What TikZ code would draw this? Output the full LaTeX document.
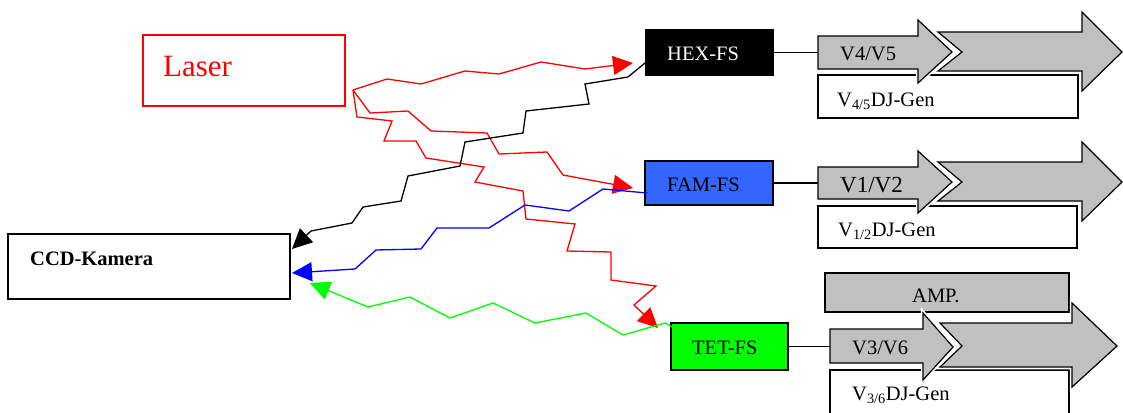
\documentclass[tikz,border=0pt]{standalone}
\usepackage{fontspec}
\setmainfont{Liberation Serif}
\usetikzlibrary{arrows.meta}
\definecolor{famblue}{HTML}{3366FF}
\definecolor{tetgreen}{HTML}{00FF00}
\definecolor{grayfill}{HTML}{C0C0C0}
\begin{document}
\begin{tikzpicture}[x=1pt,y=-1pt,
  box/.style={draw=black, line width=1.2pt, anchor=north west, inner sep=0pt, outer sep=0pt},
  txt/.style={anchor=base west, inner sep=0pt, font=\fontsize{20.5}{24}\selectfont},
  wire/.style={line width=1.3pt, line join=miter},
  tip/.style={-{Triangle[length=20pt,width=19pt]}},
  garrow/.style={fill=grayfill, draw=black, line width=1.2pt, line join=miter},
  halo/.style={draw=white, line width=4.5pt, line join=miter}
]
\clip (0,0) rectangle (1123,412);
\fill[white] (0,0) rectangle (1123,412);

% ---------- boxes ----------
\node[box, draw=red, minimum width=202pt, minimum height=71pt] (laser) at (143,35) {};
\node[box, fill=black, minimum width=127pt, minimum height=45pt] (hex) at (646,30) {};
\node[box, fill=famblue, minimum width=128pt, minimum height=44pt] (fam) at (645,161) {};
\node[box, fill=tetgreen, minimum width=117pt, minimum height=47pt] (tet) at (671,323) {};
\node[box, minimum width=282pt, minimum height=65pt] (ccd) at (8,234) {};

\node[box, fill=white, minimum width=260pt, minimum height=43pt] (gen1) at (818,75) {};
\node[box, fill=white, minimum width=259pt, minimum height=42pt] (gen2) at (818,206) {};
\node[box, fill=white, minimum width=239pt, minimum height=60pt] (gen3) at (830,370) {};
\node[box, fill=grayfill, minimum width=244pt, minimum height=39pt] (amp) at (825,273) {};

% ---------- gray arrows ----------
% row 1
\path[halo] (818,36) -- (918,36) -- (918,20) -- (952,52) -- (918,83) -- (918,69) -- (818,69) -- cycle;
\path[garrow] (818,36) -- (918,36) -- (918,20) -- (952,52) -- (918,83) -- (918,69) -- (818,69) -- cycle;
\path[halo] (938,32) -- (1082,32) -- (1082,12) -- (1122,52) -- (1082,91) -- (1082,71) -- (938,71) -- (962,52) -- cycle;
\path[garrow] (938,32) -- (1082,32) -- (1082,12) -- (1122,52) -- (1082,91) -- (1082,71) -- (938,71) -- (962,52) -- cycle;
% row 2
\path[halo] (818,167) -- (918,167) -- (918,151) -- (952,182) -- (918,213) -- (918,199) -- (818,199) -- cycle;
\path[garrow] (818,167) -- (918,167) -- (918,151) -- (952,182) -- (918,213) -- (918,199) -- (818,199) -- cycle;
\path[halo] (938,162) -- (1082,162) -- (1082,142) -- (1122,182) -- (1082,221) -- (1082,201) -- (938,201) -- (962,182) -- cycle;
\path[garrow] (938,162) -- (1082,162) -- (1082,142) -- (1122,182) -- (1082,221) -- (1082,201) -- (938,201) -- (962,182) -- cycle;
% row 3
\path[halo] (830,329) -- (923,329) -- (923,313) -- (953,347) -- (923,380) -- (923,363) -- (830,363) -- cycle;
\path[garrow] (830,329) -- (923,329) -- (923,313) -- (953,347) -- (923,380) -- (923,363) -- (830,363) -- cycle;
\path[halo] (940,323) -- (1072,323) -- (1072,303) -- (1117,346) -- (1072,387) -- (1072,367) -- (940,367) -- (962,346) -- cycle;
\path[garrow] (940,323) -- (1072,323) -- (1072,303) -- (1117,346) -- (1072,387) -- (1072,367) -- (940,367) -- (962,346) -- cycle;

\coordinate (in1) at (818,52.5);
\coordinate (in2) at (818,183);
\coordinate (in3) at (830,346.5);

% ---------- texts ----------
\node[anchor=base west, inner sep=0pt, text=red, font=\fontsize{31}{36}\selectfont] (laserT) at (163,77) {Laser};
\node[txt, text=white] (hexT) at (667,60) {HEX-FS};
\node[txt] (famT) at (667,191) {FAM-FS};
\node[txt] (tetT) at (692,354) {TET-FS};
\node[txt, font=\fontsize{20.5}{24}\selectfont\bfseries] (ccdT) at (30,265) {CCD-Kamera};
\node[txt] (v45) at (840,60) {V4/V5};
\node[txt, font=\fontsize{23}{27}\selectfont] (v12) at (840,192) {V1/V2};
\node[txt] (v36) at (852,354) {V3/V6};
\node[txt] (g45) at (837,106) {V\textsubscript{4/5}DJ-Gen};
\node[txt] (g12) at (838,236) {V\textsubscript{1/2}DJ-Gen};
\node[txt] (g36) at (852,400) {V\textsubscript{3/6}DJ-Gen};
\node[txt] (ampT) at (912,302) {AMP.};

% ---------- straight connectors ----------
\draw[wire] (hex.east |- in1) -- (in1);
\draw[wire] (fam.east |- in2) -- (in2);
\draw[wire] (tet.east |- in3) -- (in3);

% ---------- zigzag connectors ----------
\coordinate (lsrc) at (353,90);
\coordinate (hexIn) at (633,63);
\coordinate (famIn) at (633,188);
\coordinate (tetIn) at (658,328);
\coordinate (hexOut) at (645,63);
\coordinate (famOut) at (647,193);
\coordinate (tetOut) at (672,327);
\coordinate (ccdA) at (292,249);
\coordinate (ccdB) at (292,273);
\coordinate (ccdC) at (310,283);

\draw[wire, red, tip] (lsrc) -- (387,79) -- (421,84) -- (465,71) -- (499,74) -- (541,62) -- (585,69) -- (hexIn);
\draw[wire, red, tip] (lsrc) -- (370,113) -- (408,111) -- (431,131) -- (487,133) -- (499,154) -- (547,152) -- (563,175) -- (famIn);
\draw[wire, red, tip] (lsrc) -- (357,117) -- (392,121) -- (384,141) -- (416,141) -- (426,158) -- (484,167) -- (475,182) -- (523,191) -- (526,219) -- (575,224) -- (567,251) -- (611,252) -- (611,280) -- (656,286) -- (634,305) -- (tetIn);

\draw[wire, black, tip] (hexOut) -- (628,77) -- (585,84) -- (589,104) -- (526,111) -- (523,133) -- (465,142) -- (460,166) -- (408,176) -- (401,201) -- (363,207) -- (352,223) -- (311,231) -- (ccdA);
\draw[wire, blue, tip] (famOut) -- (603,189) -- (569,211) -- (525,205) -- (489,228) -- (437,228) -- (421,249) -- (376,250) -- (355,269) -- (ccdB);
\draw[wire, tetgreen, tip] (tetOut) -- (665,323) -- (623,335) -- (586,313) -- (535,323) -- (493,303) -- (450,318) -- (410,297) -- (368,307) -- (ccdC);
\end{tikzpicture}
\end{document}
